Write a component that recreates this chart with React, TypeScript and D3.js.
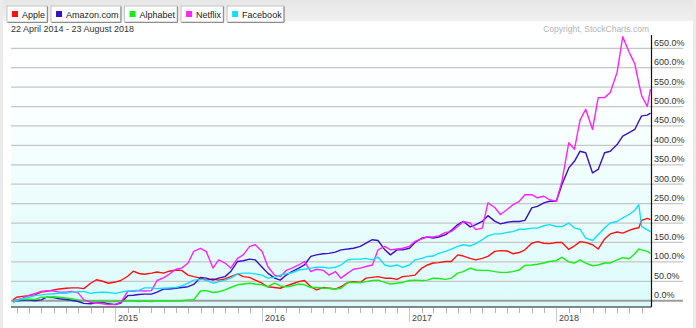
import { useEffect, useRef } from "react";
import * as d3 from "d3";

// Semi-monthly closes, % change since 22 Apr 2014
const DATES = [
  "2014-04-22",
  "2014-05-01", "2014-05-15", "2014-06-01", "2014-06-15", "2014-07-01", "2014-07-15", "2014-08-01", "2014-08-15",
  "2014-09-01", "2014-09-15", "2014-10-01", "2014-10-15", "2014-11-01", "2014-11-15", "2014-12-01", "2014-12-15",
  "2015-01-01", "2015-01-15", "2015-02-01", "2015-02-15", "2015-03-01", "2015-03-15", "2015-04-01", "2015-04-15",
  "2015-05-01", "2015-05-15", "2015-06-01", "2015-06-15", "2015-07-01", "2015-07-15", "2015-08-01", "2015-08-15",
  "2015-09-01", "2015-09-15", "2015-10-01", "2015-10-15", "2015-11-01", "2015-11-15", "2015-12-01", "2015-12-15",
  "2016-01-01", "2016-01-15", "2016-02-01", "2016-02-15", "2016-03-01", "2016-03-15", "2016-04-01", "2016-04-15",
  "2016-05-01", "2016-05-15", "2016-06-01", "2016-06-15", "2016-07-01", "2016-07-15", "2016-08-01", "2016-08-15",
  "2016-09-01", "2016-09-15", "2016-10-01", "2016-10-15", "2016-11-01", "2016-11-15", "2016-12-01", "2016-12-15",
  "2017-01-01", "2017-01-15", "2017-02-01", "2017-02-15", "2017-03-01", "2017-03-15", "2017-04-01", "2017-04-15",
  "2017-05-01", "2017-05-15", "2017-06-01", "2017-06-15", "2017-07-01", "2017-07-15", "2017-08-01", "2017-08-15",
  "2017-09-01", "2017-09-15", "2017-10-01", "2017-10-15", "2017-11-01", "2017-11-15", "2017-12-01", "2017-12-15",
  "2018-01-01", "2018-01-15", "2018-02-01", "2018-02-15", "2018-03-01", "2018-03-15", "2018-04-01", "2018-04-15",
  "2018-05-01", "2018-05-15", "2018-06-01", "2018-06-15", "2018-07-01", "2018-07-15",
  "2018-07-25", "2018-08-01", "2018-08-15", "2018-08-23",
];

const APPLE = [
  2,
  9, 11, 13, 15, 22, 24, 28, 30, 32, 33, 33, 31, 45, 54, 50, 45,
  48, 52, 63, 76, 70, 68, 71, 74, 71, 76, 79, 78, 66, 62, 58, 53, 56, 53, 56, 62, 69, 62, 60, 53,
  45, 36, 34, 32, 38, 43, 49, 52, 36, 28, 34, 32, 30, 36, 47, 49, 47, 58, 60, 62, 58, 58, 55, 62,
  64, 66, 84, 92, 97, 98, 101, 101, 118, 115, 109, 105, 109, 114, 127, 129, 128, 121, 124, 131, 148, 152, 148, 147,
  150, 150, 132, 141, 152, 150, 144, 133, 159, 172, 177, 174, 181, 186,
  188, 207, 212, 209,
];

const AMAZON = [
  -3,
  0, 1, 2, 0, 2, 9, 8, 5, 3, 1, -2, -7, -8, -5, -4, -8,
  -10, -6, 13, 14, 16, 17, 17, 22, 30, 30, 32, 34, 36, 42, 60, 58, 53, 58, 62, 75, 101, 103, 107, 105,
  86, 71, 58, 53, 66, 75, 84, 92, 114, 118, 121, 122, 125, 131, 133, 135, 140, 148, 157, 155, 131, 118, 131, 131,
  135, 150, 161, 164, 161, 164, 170, 181, 196, 204, 190, 196, 204, 219, 205, 198, 202, 204, 204, 207, 239, 243, 252, 256,
  256, 299, 342, 359, 385, 381, 329, 338, 381, 385, 402, 424, 433, 441,
  462, 476, 478, 483,
];

const ALPHABET = [
  0,
  2, 3, 4, 3, 9, 9, 10, 9, 7, 5, 2, 0, -1, -2, -2, -3,
  -2, -1, -1, 0, -2, -1, -2, -1, 0, -1, -1, 0, 2, 2, 25, 26, 21, 23, 28, 34, 41, 43, 45, 43,
  41, 36, 45, 38, 36, 38, 43, 41, 34, 34, 32, 32, 30, 32, 47, 47, 47, 49, 52, 53, 47, 43, 45, 47,
  52, 53, 52, 53, 58, 57, 55, 58, 71, 75, 84, 79, 78, 78, 75, 73, 73, 75, 79, 91, 92, 94, 97, 101,
  103, 112, 100, 97, 105, 97, 90, 92, 97, 97, 105, 111, 108, 121,
  133, 131, 127, 122,
];

const NETFLIX = [
  -5,
  2, 6, 14, 18, 24, 26, 25, 22, 22, 24, 20, 2, -4, -6, -8, -10,
  -9, -4, 24, 24, 26, 25, 26, 52, 59, 68, 81, 84, 97, 127, 135, 127, 84, 105, 97, 84, 109, 118, 140, 144,
  127, 88, 66, 62, 78, 84, 92, 101, 75, 81, 78, 66, 75, 58, 71, 81, 84, 88, 92, 131, 140, 131, 133, 135,
  140, 153, 159, 164, 164, 167, 176, 178, 191, 204, 200, 183, 187, 252, 240, 222, 235, 247, 256, 273, 273, 265, 269, 260,
  256, 308, 407, 390, 465, 493, 441, 523, 523, 536, 588, 680, 640, 610,
  560, 528, 500, 545,
];

const FACEBOOK = [
  -4,
  0, 5, 9, 13, 15, 17, 18, 19, 19, 22, 23, 24, 19, 21, 22, 21,
  19, 22, 25, 26, 27, 33, 33, 31, 32, 33, 34, 38, 45, 53, 55, 53, 45, 49, 53, 58, 69, 71, 71, 69,
  66, 58, 60, 66, 69, 72, 79, 81, 84, 86, 86, 84, 86, 92, 105, 107, 107, 109, 105, 112, 92, 88, 92, 86,
  92, 105, 109, 114, 115, 122, 127, 133, 140, 144, 141, 147, 157, 167, 172, 172, 176, 178, 184, 184, 187, 187, 193, 196,
  191, 191, 200, 187, 184, 161, 155, 170, 187, 200, 204, 213, 222, 233,
  247, 191, 183, 178,
];

const SERIES = [
  { name: "Apple", color: "#ff1010", values: APPLE },
  { name: "Amazon.com", color: "#3811c8", values: AMAZON },
  { name: "Alphabet", color: "#16ee16", values: ALPHABET },
  { name: "Netflix", color: "#ff22ff", values: NETFLIX },
  { name: "Facebook", color: "#10e0ff", values: FACEBOOK },
];

const RANGE_LABEL = "22 April 2014 - 23 August 2018";
const COPYRIGHT = "Copyright, StockCharts.com";

const W = 696;
const H = 328;
const FONT = "'Liberation Sans', Arial, sans-serif";

export default function App() {
  const svgRef = useRef<SVGSVGElement>(null);

  useEffect(() => {
    document.body.style.margin = "0";
    if (!svgRef.current) return;
    const svg = d3.select(svgRef.current);
    svg.selectAll("*").remove();

    const plot = { left: 11, right: 651.5, top: 35, bottom: 307 };
    const parse = d3.timeParse("%Y-%m-%d");
    const dates = DATES.map((d) => parse(d) as Date);

    const x = d3
      .scaleTime()
      .domain([dates[0], dates[dates.length - 1]])
      .range([13, 650.5]);
    const y = d3.scaleLinear().domain([0, 650]).range([300.7, 48.3]);

    const defs = svg.append("defs");

    // Frame + header
    svg.append("rect").attr("width", W).attr("height", H).attr("fill", "#ebebeb");
    const hg = defs.append("linearGradient").attr("id", "hdr").attr("x1", 0).attr("y1", 0).attr("x2", 0).attr("y2", 1);
    hg.append("stop").attr("offset", "0%").attr("stop-color", "#e6e6e6");
    hg.append("stop").attr("offset", "100%").attr("stop-color", "#f0f0f0");
    svg.append("rect").attr("x", 3).attr("y", 0).attr("width", W - 6).attr("height", 21).attr("fill", "url(#hdr)");
    svg.append("rect").attr("x", 3).attr("y", 21).attr("width", W - 6).attr("height", H - 21).attr("fill", "#ffffff");

    // Plot background gradient
    const pg = defs.append("linearGradient").attr("id", "plotbg").attr("x1", 0).attr("y1", 0).attr("x2", 0).attr("y2", 1);
    pg.append("stop").attr("offset", "0%").attr("stop-color", "#ffffff");
    pg.append("stop").attr("offset", "25%").attr("stop-color", "#fbffff");
    pg.append("stop").attr("offset", "100%").attr("stop-color", "#dcfbfb");
    svg
      .append("rect")
      .attr("x", plot.left)
      .attr("y", plot.top)
      .attr("width", plot.right - plot.left)
      .attr("height", plot.bottom - plot.top)
      .attr("fill", "url(#plotbg)");

    // Grid + right labels
    const yTicks = y.ticks(13);
    const grid = svg.append("g");
    yTicks.forEach((t) => {
      grid
        .append("line")
        .attr("x1", plot.left)
        .attr("x2", 683)
        .attr("y1", y(t))
        .attr("y2", y(t))
        .attr("stroke", t === 0 ? "#9c9c9c" : "#c6c6c6")
        .attr("stroke-width", t === 0 ? 2 : 1.3);
      grid
        .append("text")
        .attr("x", 654)
        .attr("y", y(t) - 2.5)
        .attr("font-family", FONT)
        .attr("font-size", "9px")
        .attr("fill", "#333")
        .text(`${d3.format(".1f")(t)}%`);
    });

    // Lines
    defs
      .append("clipPath")
      .attr("id", "clip")
      .append("rect")
      .attr("x", plot.left)
      .attr("y", plot.top)
      .attr("width", plot.right - plot.left)
      .attr("height", plot.bottom - plot.top);

    const line = d3
      .line<number>()
      .x((_, i) => x(dates[i]))
      .y((d) => y(d));

    const lines = svg.append("g").attr("clip-path", "url(#clip)");
    SERIES.forEach((s) => {
      lines
        .append("path")
        .datum(s.values)
        .attr("fill", "none")
        .attr("stroke", s.color)
        .attr("stroke-width", 1.4)
        .attr("stroke-linejoin", "round")
        .attr("d", line);
    });

    // Axes lines
    svg
      .append("line")
      .attr("x1", plot.right)
      .attr("x2", plot.right)
      .attr("y1", plot.top)
      .attr("y2", plot.bottom)
      .attr("stroke", "#111")
      .attr("stroke-width", 1.2);
    svg
      .append("line")
      .attr("x1", plot.left)
      .attr("x2", plot.right)
      .attr("y1", plot.bottom)
      .attr("y2", plot.bottom)
      .attr("stroke", "#111")
      .attr("stroke-width", 1.2);

    // Month ticks + year labels
    const ticks = x.ticks(d3.timeMonth.every(1) as d3.TimeInterval);
    const tg = svg.append("g");
    ticks.forEach((t) => {
      const isYear = t.getMonth() === 0;
      const tx = Math.round(x(t)) + 0.5;
      tg.append("line")
        .attr("x1", tx)
        .attr("x2", tx)
        .attr("y1", plot.bottom + 1)
        .attr("y2", isYear ? 322 : 313)
        .attr("stroke", isYear ? "#c8c8c8" : "#b4b4b4")
        .attr("stroke-width", 1);
      if (isYear) {
        tg.append("text")
          .attr("x", tx + 2.5)
          .attr("y", 320.5)
          .attr("font-family", FONT)
          .attr("font-size", "9px")
          .attr("fill", "#444")
          .text(d3.timeFormat("%Y")(t));
      }
    });

    // Range + copyright
    svg
      .append("text")
      .attr("x", 11)
      .attr("y", 32)
      .attr("font-family", FONT)
      .attr("font-size", "9px")
      .attr("fill", "#333")
      .text(RANGE_LABEL);
    svg
      .append("text")
      .attr("x", 649)
      .attr("y", 32)
      .attr("text-anchor", "end")
      .attr("font-family", FONT)
      .attr("font-size", "8.5px")
      .attr("fill", "#b4b4b4")
      .text(COPYRIGHT);

    // Legend buttons
    const lg = svg.append("g");
    let bx = 7;
    SERIES.forEach((s) => {
      const b = lg.append("g").attr("transform", `translate(${bx},6)`);
      const rect = b.append("rect").attr("height", 16).attr("fill", "#fff").attr("stroke", "#c4c4c4").attr("stroke-width", 1);
      b.append("rect").attr("x", 5).attr("y", 5).attr("width", 6).attr("height", 6).attr("fill", s.color);
      const txt = b
        .append("text")
        .attr("x", 15)
        .attr("y", 11.5)
        .attr("font-family", FONT)
        .attr("font-size", "9px")
        .attr("fill", "#222")
        .text(s.name);
      const w = (txt.node() as SVGTextElement).getComputedTextLength() + 17;
      rect.attr("width", w);
      b.append("path")
        .attr("d", `M${w + 0.5},0.5V16.5H0.5`)
        .attr("fill", "none")
        .attr("stroke", "#8c8c8c")
        .attr("stroke-width", 1);
      bx += w + 4;
    });
  }, []);

  return <svg ref={svgRef} width={W} height={H} style={{ display: "block" }} />;
}
